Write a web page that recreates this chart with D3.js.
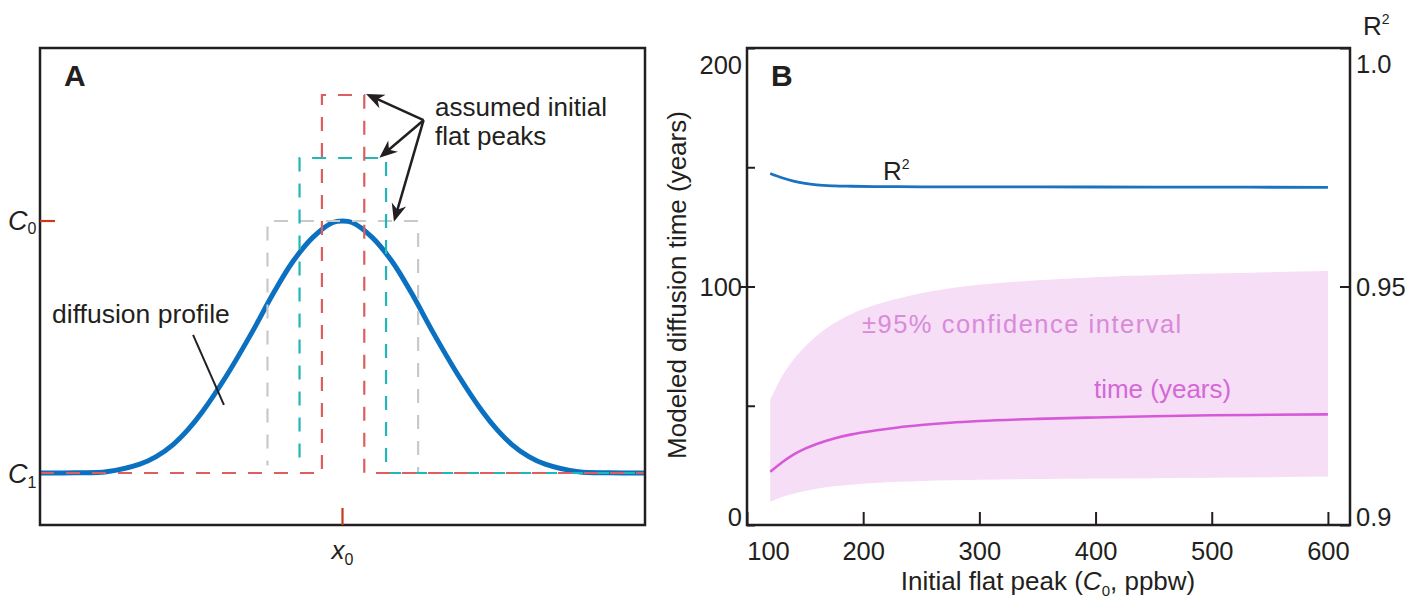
<!DOCTYPE html>
<html>
<head>
<meta charset="utf-8">
<script src="https://cdn.jsdelivr.net/npm/d3@7"></script>
<style>
  html, body { margin: 0; padding: 0; background: #fff; }
  svg { display: block; font-family: "Liberation Sans", Arial, Helvetica, sans-serif; }
</style>
</head>
<body>
<svg id="chart" width="1427" height="609"></svg>
<script>
// ---------------- DATA ----------------
// Panel A: diffusion profile (position units 0-100, concentration: C1 = 0, C0 = 1)
const profileX = [0, 6, 11, 16.5, 19.2, 22, 24.5, 26.9, 30.9, 35.2, 38.5, 41.8, 45.1, 48.4, 50, 51.6, 54.9, 58.2, 61.5, 64.8, 69.1, 73.1, 75.5, 78, 80.8, 83.5, 89, 94, 100];
const profileY = [0, 0.001, 0.005, 0.035, 0.065, 0.113, 0.173, 0.245, 0.389, 0.565, 0.71, 0.839, 0.935, 0.994, 1.0, 0.994, 0.935, 0.839, 0.71, 0.565, 0.389, 0.245, 0.173, 0.113, 0.065, 0.035, 0.005, 0.001, 0];
// Assumed initial flat peaks: [left, right, height]
const peakNames  = ["gray", "cyan", "red"];
const peakLeft   = [37.6, 42.9, 46.6];
const peakRight  = [62.5, 57.2, 53.6];
const peakHeight = [1.0, 1.25, 1.5];
// Arrow annotation (origin, and the tip for each peak)
const arrowOrigin = [63.4, 1.40];
const arrowTipX = [58.5, 56.1, 53.9];
const arrowTipY = [0.997, 1.251, 1.504];

// Panel B
const c0 = [120, 130, 140, 150, 160, 175, 190, 210, 230, 250, 275, 300, 350, 400, 450, 500, 550, 600];
const timeYears = [22.3, 26.2, 29.5, 32.0, 34.0, 36.3, 38.0, 39.6, 40.9, 41.9, 42.9, 43.6, 44.5, 45.1, 45.6, 46.0, 46.2, 46.4];
const ciUpper = [52.4, 62.3, 69.3, 74.8, 79.4, 84.6, 88.5, 92.2, 95.0, 97.2, 99.3, 100.7, 102.6, 103.9, 104.7, 105.4, 106.0, 106.5];
const ciLower = [9.8, 11.7, 13.1, 14.3, 15.2, 16.2, 16.9, 17.6, 18.1, 18.5, 18.8, 19.0, 19.3, 19.5, 19.65, 19.85, 20.05, 20.3];
const r2 = [0.9737, 0.9728, 0.9721, 0.9716, 0.9713, 0.9711, 0.97102, 0.97095, 0.97092, 0.9709, 0.9709, 0.9709, 0.97088, 0.97086, 0.97084, 0.97082, 0.97081, 0.9708];
const xTicksB = [100, 200, 300, 400, 500, 600];
const yTicksB = [0, 50, 100, 150, 200];
const yLabelsB = [0, 100, 200];
const r2Ticks = [0.9, 0.95, 1.0];
const r2Labels = ["0.9", "0.95", "1.0"];

// ---------------- SETUP ----------------
const svg = d3.select("#chart");
const ink = "#231f20";
const FONT = 25.5;
const smooth = d3.curveCatmullRom.alpha(0.5);

// ================ PANEL A ================
const xA = d3.scaleLinear([0, 100], [40, 645]);
const yA = d3.scaleLinear([-0.2063, 1.6865], [525, 48]);
const gA = svg.append("g");

// blue diffusion profile
const profile = profileX.map((x, i) => [x, profileY[i]]);
gA.append("path")
  .datum(profile)
  .attr("fill", "none")
  .attr("stroke", "#0b70c0")
  .attr("stroke-width", 5)
  .attr("d", d3.line().x(d => xA(d[0])).y(d => yA(d[1])).curve(smooth));

// dashed flat peaks
const peakColor = { gray: "#c9c9c9", cyan: "#22b7b6", red: "#dc5e5e" };
const peakOffset = { gray: 9, cyan: 18, red: 0 };
peakNames.forEach((name, i) => {
  const L = peakLeft[i], R = peakRight[i], h = peakHeight[i];
  const pts = name === "red"
    ? [[0, 0], [L, 0], [L, h], [R, h], [R, 0], [100, 0]]
    : [[L, 0.03], [L, h], [R, h], [R, 0.03], [R, 0], [100, 0]];
  gA.append("path")
    .datum(pts)
    .attr("fill", "none")
    .attr("stroke", peakColor[name])
    .attr("stroke-width", 2.2)
    .attr("stroke-dasharray", "14,12")
    .attr("stroke-dashoffset", peakOffset[name])
    .attr("d", d3.line().x(d => xA(d[0])).y(d => yA(d[1])));
});

// frame A
gA.append("rect")
  .attr("x", xA(0)).attr("y", yA.range()[1])
  .attr("width", xA(100) - xA(0)).attr("height", yA.range()[0] - yA.range()[1])
  .attr("fill", "none").attr("stroke", ink).attr("stroke-width", 2.5);

// C0 tick and x0 tick
gA.append("line")
  .attr("x1", xA(0)).attr("x2", xA(0) + 15)
  .attr("y1", yA(1)).attr("y2", yA(1))
  .attr("stroke", "#c83a1c").attr("stroke-width", 2.2);
gA.append("line")
  .attr("x1", xA(50)).attr("x2", xA(50))
  .attr("y1", yA.range()[0] - 17).attr("y2", yA.range()[0])
  .attr("stroke", "#c83a1c").attr("stroke-width", 2.2);

// labels C0, C1, x0
function subLabel(g, x, y, main, sub, anchor, size, subSize, subDy) {
  const t = g.append("text").attr("x", x).attr("y", y)
    .attr("text-anchor", anchor).attr("fill", ink).attr("font-size", size);
  t.append("tspan").attr("font-style", "italic").text(main);
  t.append("tspan").attr("font-size", subSize).attr("dy", subDy).text(sub);
  return t;
}
subLabel(gA, 8, yA(1) + 9, "C", "0", "start", 27, 16, 4);
subLabel(gA, 8, yA(0) + 10, "C", "1", "start", 27, 16, 5);
subLabel(gA, xA(50), 559, "x", "0", "middle", 26, 16, 6);

// panel letter
gA.append("text").attr("x", 64).attr("y", 86)
  .attr("font-size", 30).attr("font-weight", "bold").attr("fill", ink).text("A");

// diffusion profile label + leader
gA.append("text").attr("x", xA(2)).attr("y", yA(0.597))
  .attr("font-size", 26.5).attr("fill", ink).text("diffusion profile");
gA.append("line")
  .attr("x1", xA(25.3)).attr("y1", yA(0.548))
  .attr("x2", xA(30.4)).attr("y2", yA(0.27))
  .attr("stroke", ink).attr("stroke-width", 2);

// assumed initial flat peaks label
gA.append("text").attr("x", xA(65.3)).attr("y", yA(1.417))
  .attr("font-size", 26).attr("fill", ink).text("assumed initial");
gA.append("text").attr("x", xA(65.3)).attr("y", yA(1.302))
  .attr("font-size", 26).attr("fill", ink).text("flat peaks");

// arrows
const ox = xA(arrowOrigin[0]), oy = yA(arrowOrigin[1]);
arrowTipX.forEach((tx, i) => {
  const px = xA(tx), py = yA(arrowTipY[i]);
  const dx = px - ox, dy = py - oy, len = Math.hypot(dx, dy);
  const ux = dx / len, uy = dy / len;
  gA.append("line")
    .attr("x1", ox).attr("y1", oy)
    .attr("x2", px - ux * 10).attr("y2", py - uy * 10)
    .attr("stroke", ink).attr("stroke-width", 2.5);
  const ang = Math.atan2(dy, dx) * 180 / Math.PI;
  gA.append("path")
    .attr("d", "M0,0 L-18,-7.5 L-12.5,0 L-18,7.5 Z")
    .attr("fill", ink)
    .attr("transform", `translate(${px},${py}) rotate(${ang})`);
});

// ================ PANEL B ================
const xB = d3.scaleLinear([100, 619], [747, 1350]);
const yB = d3.scaleLinear([0, 200], [525, 48]);
const yR = d3.scaleLinear([0.9, 1.0], [525, 48]);
const gB = svg.append("g");

const rows = c0.map((c, i) => ({ c, t: timeYears[i], lo: ciLower[i], hi: ciUpper[i], r: r2[i] }));

// confidence band
gB.append("path")
  .datum(rows)
  .attr("fill", "#f5def6")
  .attr("d", d3.area().x(d => xB(d.c)).y0(d => yB(d.lo)).y1(d => yB(d.hi)).curve(d3.curveMonotoneX));

// time line
gB.append("path")
  .datum(rows)
  .attr("fill", "none").attr("stroke", "#d65ad8").attr("stroke-width", 2.6)
  .attr("d", d3.line().x(d => xB(d.c)).y(d => yB(d.t)).curve(d3.curveMonotoneX));

// R2 line
gB.append("path")
  .datum(rows)
  .attr("fill", "none").attr("stroke", "#1a72c0").attr("stroke-width", 2.8)
  .attr("d", d3.line().x(d => xB(d.c)).y(d => yR(d.r)).curve(d3.curveMonotoneX));

// frame B
gB.append("rect")
  .attr("x", 747).attr("y", 48)
  .attr("width", 1350 - 747).attr("height", 525 - 48)
  .attr("fill", "none").attr("stroke", ink).attr("stroke-width", 2.5);

function styleAxis(g) {
  g.select(".domain").remove();
  g.selectAll(".tick line").attr("stroke", ink).attr("stroke-width", 2);
  g.selectAll(".tick text").attr("fill", ink).attr("font-size", FONT)
    .attr("font-family", '"Liberation Sans", Arial, Helvetica, sans-serif');
}

// bottom axis
const axB = gB.append("g").attr("transform", "translate(0,525)")
  .call(d3.axisBottom(xB).tickValues(xTicksB).tickSizeInner(-13).tickSizeOuter(0).tickPadding(17).tickFormat(d3.format("d")));
styleAxis(axB);
axB.selectAll(".tick text").attr("dx", d => d === 100 ? 21 : 0);

// left axis
const axL = gB.append("g").attr("transform", "translate(747,0)")
  .call(d3.axisLeft(yB).tickValues(yTicksB).tickSizeInner(-8).tickSizeOuter(0).tickPadding(5)
    .tickFormat(d => yLabelsB.includes(d) ? d : ""));
styleAxis(axL);
axL.selectAll(".tick text").attr("dy", d => d === 200 ? "1.0em" : d === 0 ? "0.0em" : "0.34em");
axL.selectAll(".tick line").filter(d => d === 100).attr("x1", -7);

// right axis
const axR = gB.append("g").attr("transform", "translate(1350,0)")
  .call(d3.axisRight(yR).tickValues(r2Ticks).tickSizeInner(-10).tickSizeOuter(0).tickPadding(6)
    .tickFormat((d, i) => r2Labels[i]));
styleAxis(axR);
axR.selectAll(".tick text").attr("dy", d => d === 1.0 ? "0.95em" : d === 0.9 ? "0.0em" : "0.34em");

// axis titles
gB.append("text")
  .attr("transform", "translate(686,285) rotate(-90)")
  .attr("text-anchor", "middle").attr("font-size", 26).attr("fill", ink)
  .text("Modeled diffusion time (years)");

const xt = gB.append("text").attr("x", 1048).attr("y", 590)
  .attr("text-anchor", "middle").attr("font-size", 26).attr("fill", ink);
xt.append("tspan").text("Initial flat peak (");
xt.append("tspan").attr("font-style", "italic").text("C");
xt.append("tspan").attr("font-size", 15).attr("dy", 6).text("0");
xt.append("tspan").attr("dy", -6).text(", ppbw)");

// R2 axis title
const rt = gB.append("text").attr("x", 1363).attr("y", 35).attr("font-size", 26).attr("fill", ink);
rt.append("tspan").text("R");
rt.append("tspan").attr("font-size", 14).attr("dy", -11).text("2");

// panel letter
gB.append("text").attr("x", 771).attr("y", 86)
  .attr("font-size", 30).attr("font-weight", "bold").attr("fill", ink).text("B");

// series labels
const rl = gB.append("text").attr("x", xB(217)).attr("y", yR(0.97233)).attr("font-size", 26).attr("fill", ink);
rl.append("tspan").text("R");
rl.append("tspan").attr("font-size", 14).attr("dy", -11).text("2");

gB.append("text").attr("x", xB(199)).attr("y", yB(80.5))
  .attr("font-size", 25.5).attr("letter-spacing", 1.5).attr("fill", "#d98ad9")
  .text("±95% confidence interval");
gB.append("text").attr("x", xB(398.6)).attr("y", yB(53.2))
  .attr("font-size", 26).attr("fill", "#d468d6")
  .text("time (years)");
</script>
</body>
</html>
